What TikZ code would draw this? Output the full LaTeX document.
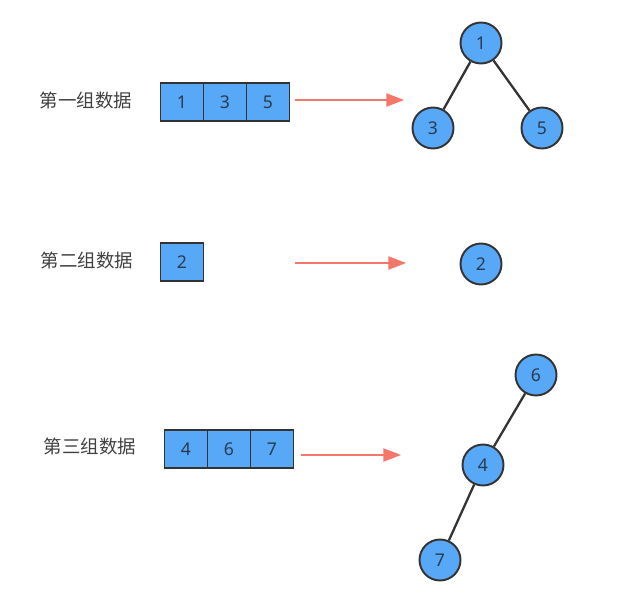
\documentclass[tikz,border=0pt]{standalone}
\usepackage{fontspec}
\setmainfont{Noto Sans}
\newfontfamily\cjk{Noto Sans CJK SC}
\usetikzlibrary{arrows.meta,positioning}
\definecolor{cellblue}{HTML}{58A8F8}
\definecolor{numtext}{HTML}{2B3A4E}
\definecolor{arrred}{HTML}{F4786A}
\tikzset{cell/.style={draw=black!80,fill=cellblue,line width=1pt,minimum width=43*0.02cm,minimum height=38*0.02cm,inner sep=0pt,text=numtext,font=\fontsize{10}{12}\selectfont},
  tnode/.style={circle,draw=black!80,fill=cellblue,line width=1.1pt,minimum size=41*0.02cm,inner sep=0pt,text=numtext,font=\fontsize{10}{12}\selectfont},
  grp/.style={font=\cjk\fontsize{10.5}{12}\selectfont,text=black!75},
  toarr/.style={draw=arrred,line width=0.9pt,-{Triangle[length=10pt,width=7.5pt]}},
  edge/.style={draw=black!80,line width=1.3pt}}
\begin{document}
\begin{tikzpicture}[x=0.02cm,y=-0.02cm]
\useasboundingbox (0,0) rectangle (642,601);
% first group
\node[grp] (lab1) at (86,100){第一组数据};
\node[cell] (a1) at (182,102){1};\node[cell,right=-1pt of a1] (a3){3};\node[cell,right=-1pt of a3] (a5){5};
\coordinate (e1) at (404,100);\draw[toarr] ([xshift=5*0.02cm]a5.east|-e1)--(e1);
\node[tnode] (t1) at (481,43){1};\node[tnode] (t3) at (433,128){3};\node[tnode] (t5) at (542,128){5};
\draw[edge] (t1)--(t3);\draw[edge] (t1)--(t5);
% second group
\node[grp] (lab2) at (87,260){第二组数据};
\node[cell] (b2) at (182,262){2};
\coordinate (s2) at (295,263);\coordinate (e2) at (406,263);\draw[toarr] (s2)--(e2);
\node[tnode] (t2) at (481,264){2};
% third group
\node[grp] (lab3) at (90,446){第三组数据};
\node[cell] (c4) at (186,449){4};\node[cell,right=-1pt of c4] (c6){6};\node[cell,right=-1pt of c6] (c7){7};
\coordinate (e3) at (401,455);\draw[toarr] ([xshift=7*0.02cm]c7.east|-e3)--(e3);
\node[tnode] (t6) at (536,375){6};\node[tnode] (t4) at (483,465){4};\node[tnode] (t7) at (440,560){7};
\draw[edge] (t6)--(t4);\draw[edge] (t4)--(t7);
\end{tikzpicture}
\end{document}
